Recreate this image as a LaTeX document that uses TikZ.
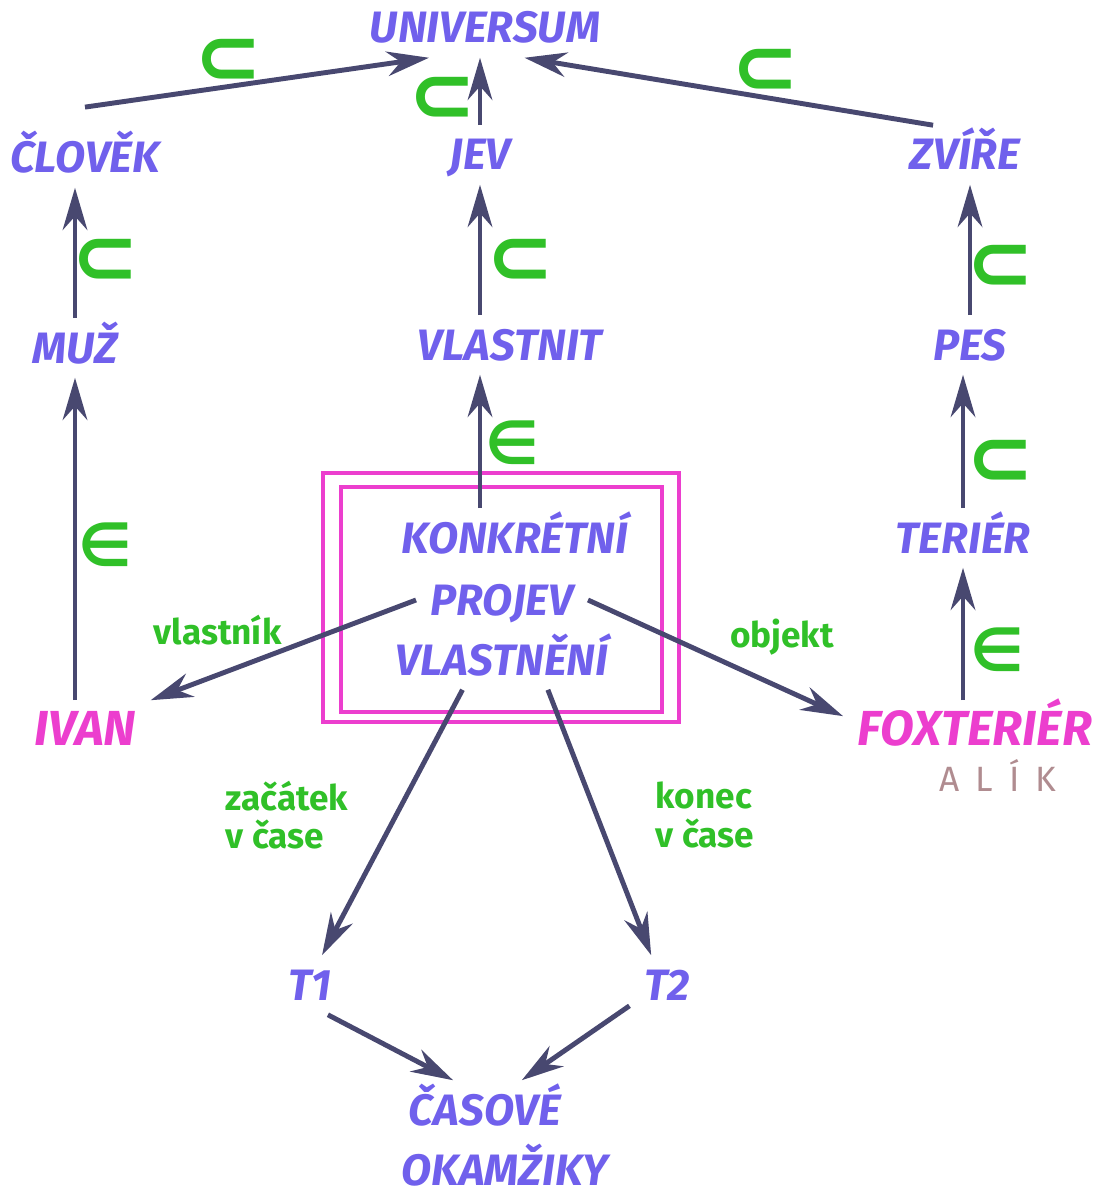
\documentclass[tikz,border=0pt]{standalone}
\usepackage{fontspec}
\setsansfont{Fira Sans}
\newfontfamily\symfont{DejaVu Sans}
\usetikzlibrary{arrows.meta}

\definecolor{ink}{RGB}{112,96,236}
\definecolor{pink}{RGB}{236,62,206}
\definecolor{leaf}{RGB}{48,192,40}
\definecolor{lead}{RGB}{72,72,112}
\definecolor{rust}{RGB}{176,140,144}

\tikzset{
	term/.style={font=\sffamily\bfseries\itshape\fontsize{12.5}{14}\selectfont, text=ink,
		inner sep=4pt, text height=0.3cm, text depth=0pt},
	person/.style={term, text=pink, font=\sffamily\bfseries\itshape\fontsize{14}{16}\selectfont},
	tag/.style={font=\sffamily\bfseries\fontsize{10}{11}\selectfont, text=leaf, align=left},
	sym/.style={font=\symfont\bfseries\fontsize{17}{17}\selectfont, text=leaf},
	sub/.style={sym, font=\symfont\bfseries\fontsize{23}{23}\selectfont},
	link/.style={draw=lead, line width=1.4pt, -{Stealth[length=12pt,width=7pt]}},
	frame/.style={draw=pink, line width=1.3pt},
}

\begin{document}
\begin{tikzpicture}[x=0.01cm, y=-0.01cm]
		\useasboundingbox (0,0) rectangle (1105,1192);

		% the hierarchy of concepts
		\node[term] (universum) at (485,28) {UNIVERSUM};
		\node[term] (clovek) at (85,158) {ČLOVĚK};
		\node[term] (jev) at (480,155) {JEV};
		\node[term] (zvire) at (965,155) {ZVÍŘE};
		\node[term] (muz) at (75,348) {MUŽ};
		\node[term] (vlastnit) at (510,345) {VLASTNIT};
		\node[term] (pes) at (970,345) {PES};
		\node[term] (terier) at (963,538) {TERIÉR};

		% the double frame round the event
		\draw[frame] (323,473) rectangle (679,722);
		\draw[frame] (341,487) rectangle (662,712);
		\node[term] (konkretni) at (515,538) {KONKRÉTNÍ};
		\node[term] (projev) at (502,600) {PROJEV};
		\node[term] (vlastneni) at (502,660) {VLASTNĚNÍ};

		% individuals
		\node[person] (ivan) at (85,730) {IVAN};
		\node[person] (foxterier) at (975,730) {FOXTERIÉR};
		\node[font=\sffamily\fontsize{10}{11}\selectfont\addfontfeatures{LetterSpace=45}, text=rust] (alik) at (998,775) {ALÍK};

		% time points
		\node[term] (t1) at (310,985) {T1};
		\node[term] (t2) at (667,985) {T2};
		\node[term] (casove) at (485,1110) {ČASOVÉ};
		\node[term] (okamziky) at (505,1170) {OKAMŽIKY};

		% connectors
		\draw[link] ([yshift=6pt]clovek.north) -- (universum.208);
		\draw[link] (jev.north) -- (jev.north |- universum.south);
		\draw[link] (zvire.137) -- (universum.323);
		\draw[link] (muz.north) -- (muz.north |- clovek.south);
		\draw[link] (vlastnit.north -| jev.south) -- (jev.south);
		\draw[link] (pes.north) -- (pes.north |- zvire.south);
		\draw[link] (konkretni.north -| jev) -- (vlastnit.south -| jev);
		\draw[link] (ivan.north -| muz) -- (muz.south);
		\draw[link] (terier.north) -- (terier.north |- pes.south);
		\draw[link] (foxterier.north -| terier) -- (terier.south);
		\draw[link] (projev.west) -- (ivan.north east);
		\draw[link] (projev.east) -- (foxterier.174);
		\draw[link] (vlastneni.217) -- (t1.68);
		\draw[link] (vlastneni.327) -- (t2.118);
		\draw[link] (t1.301) -- (casove.137);
		\draw[link] (t2.209) -- (casove.39);

		% relation marks
		\node[sub] (s1) at (228,62) {⊂};
		\node[sub] (s2) at (442,100) {⊂};
		\node[sub] (s3) at (765,72) {⊂};
		\node[sub] (s4) at (105,262) {⊂};
		\node[sub] (s5) at (520,262) {⊂};
		\node[sub] (s6) at (1000,268) {⊂};
		\node[sub] (s7) at (1000,463) {⊂};
		\node[sym] (e1) at (512,443) {∈};
		\node[sym] (e2) at (105,545) {∈};
		\node[sym] (e3) at (997,650) {∈};

		\node[tag] (vlastnik) at (218,630) {vlastník};
		\node[tag] (objekt) at (782,637) {objekt};
		\node[tag] (zacatek) at (287,815) {začátek\\v čase};
		\node[tag] (konec) at (705,815) {konec\\v čase};
	\end{tikzpicture}
\end{document}
